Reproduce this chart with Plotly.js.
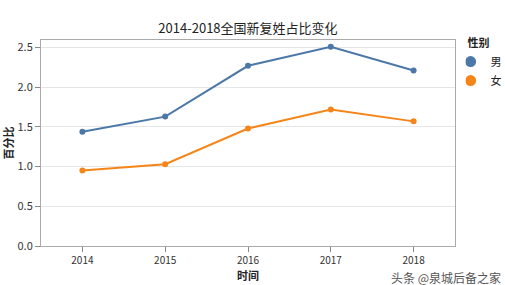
<!DOCTYPE html>
<html><head><meta charset="utf-8">
<script src="https://cdn.plot.ly/plotly-3.0.1.min.js"></script>
<style>html,body{margin:0;padding:0;background:#fff;}#c{width:505px;height:285px;}</style>
</head><body><div id="c"></div>
<script>
const years = ['2014','2015','2016','2017','2018'];
const male = [1.44, 1.63, 2.27, 2.51, 2.21];
const female = [0.95, 1.03, 1.48, 1.72, 1.57];
const seriesNames = ['男','女'];
const colors = ['#4c78a8','#f58518'];
const F = '"Noto Sans CJK SC", "Noto Sans", sans-serif';

const traces = [male, female].map((v,i)=>({
  x: years, y: v, name: seriesNames[i], type:'scatter', mode:'lines+markers', showlegend:false,
  line:{color:colors[i], width:2}, marker:{color:colors[i], size:6}
}));
seriesNames.forEach((n,i)=>traces.push({
  x:[null], y:[null], name:n, type:'scatter', mode:'markers', showlegend:true,
  marker:{color:colors[i], size:11}
}));

const layout = {
  width:505, height:285,
  margin:{l:41, r:50, t:40, b:39, autoexpand:false},
  paper_bgcolor:'#fff', plot_bgcolor:'#fff',
  font:{family:F, color:'#222', size:10},
  title:{text:'2014-2018全国新复姓占比变化', x:0.491, xanchor:'center', y:0.9, yanchor:'middle', font:{family:F, size:13, color:'#222'}},
  xaxis:{type:'category', range:[-0.5,4.5], showgrid:false, ticks:'outside', ticklen:5, tickcolor:'#888',
    showline:true, linecolor:'#aaa', linewidth:1, mirror:true, zeroline:false,
    tickfont:{size:10, color:'#333'},
    title:{text:'<b>时间</b>', font:{size:11, color:'#222'}, standoff:4}},
  yaxis:{range:[0,2.595], tickvals:[0,0.5,1,1.5,2,2.5], ticktext:['0.0','0.5','1.0','1.5','2.0','2.5'],
    showgrid:true, gridcolor:'#e6e6e6', ticks:'outside', ticklen:5, tickcolor:'#888',
    showline:true, linecolor:'#aaa', linewidth:1, mirror:true, zeroline:false,
    tickfont:{size:11, color:'#333'},
    title:{text:'<b>百分比</b>', font:{size:11, color:'#222'}, standoff:6}},
  legend:{xref:'container', yref:'container', x:0.922, xanchor:'left', y:0.885, yanchor:'top', bgcolor:'rgba(0,0,0,0)',
    title:{text:'<b>性别</b>', font:{size:11, color:'#222'}}, font:{size:11, color:'#222'},
    itemwidth:30, tracegroupgap:0, indentation:-15},
  showlegend:true,
  annotations:[{text:'头条 @泉城后备之家', xref:'paper', yref:'paper', x:1.115, y:-0.155, xanchor:'right', yanchor:'middle',
    showarrow:false, font:{size:12, color:'#555', family:F}}]
};
Plotly.newPlot('c', traces, layout, {displayModeBar:false, staticPlot:true});
</script></body></html>
